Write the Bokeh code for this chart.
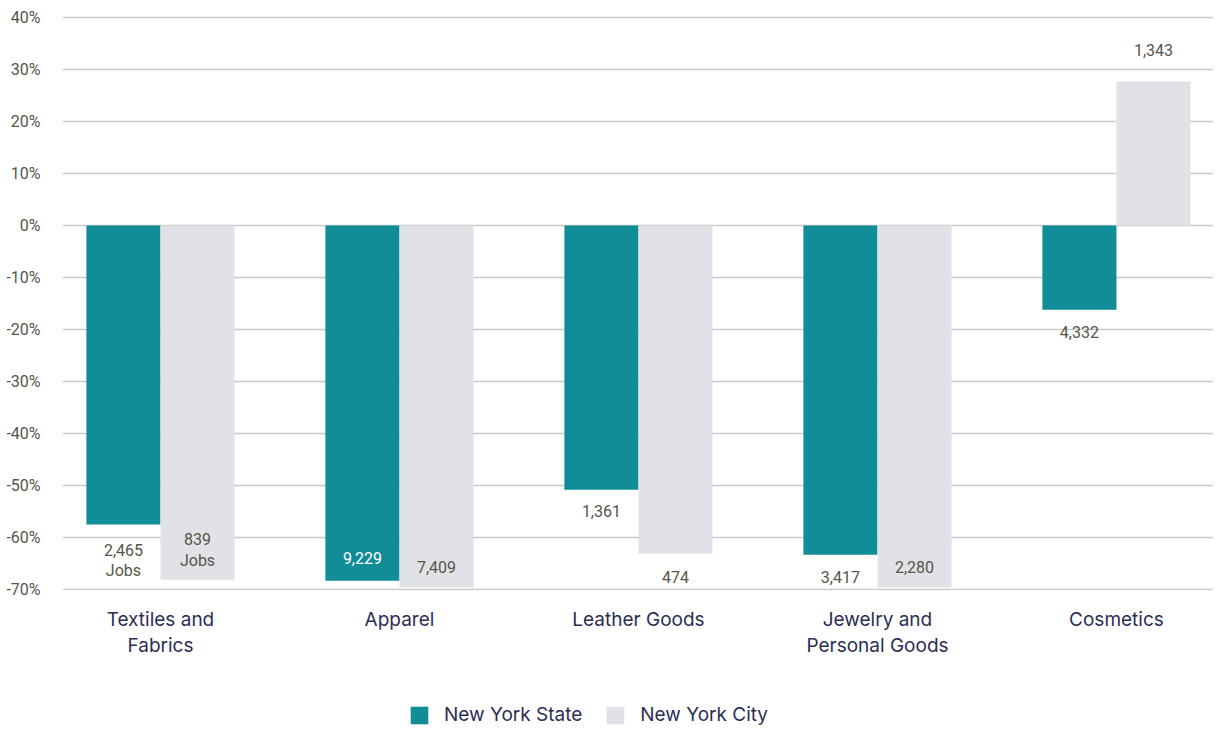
from bokeh.plotting import figure
from bokeh.layouts import column
from bokeh.models import (ColumnDataSource, FixedTicker, PrintfTickFormatter,
                          Legend, LegendItem, Range1d)
from bokeh.embed import file_html
from bokeh.resources import INLINE
from bokeh.core.properties import value

# ---------------- data ----------------
categories = ["Textiles and\nFabrics", "Apparel", "Leather Goods",
              "Jewelry and\nPersonal Goods", "Cosmetics"]
nys_change = [-57.5, -68.3, -50.8, -63.3, -16.2]   # % change, New York State
nyc_change = [-68.1, -69.6, -63.1, -69.6, 27.7]    # % change, New York City
nys_jobs = [2465, 9229, 1361, 3417, 4332]
nyc_jobs = [839, 7409, 474, 2280, 1343]
y_ticks = [-70, -60, -50, -40, -30, -20, -10, 0, 10, 20, 30, 40]
series_names = ["New York State", "New York City"]

# ---------------- style ----------------
TEAL = "#118d98"
LIGHT = "#e1e2e7"
NAVY = "#2d2d55"
GREY_TXT = "#55554a"
NUM_FONT = "Roboto"
CAT_FONT = "Inter"
BAR_W = 0.31
DODGE = 0.155
# label offsets (screen px, from the end of each bar)
nys_off = [36, -23, 21, 22, 22]
nyc_off = [-30, -20, 23, -20, -31]
nys_col = [GREY_TXT, "#ffffff", GREY_TXT, GREY_TXT, GREY_TXT]
nyc_col = [GREY_TXT] * 5


def fmt(n, first):
    s = f"{n:,}"
    return s + "\nJobs" if first else s


idx = list(range(len(categories)))
src_nys = ColumnDataSource(dict(
    x=[i - DODGE for i in idx], top=nys_change,
    lab=[fmt(n, i == 0) for i, n in enumerate(nys_jobs)],
    off=nys_off, col=nys_col))
src_nyc = ColumnDataSource(dict(
    x=[i + DODGE for i in idx], top=nyc_change,
    lab=[fmt(n, i == 0) for i, n in enumerate(nyc_jobs)],
    off=nyc_off, col=nyc_col))

p = figure(width=1213, height=660, output_backend="svg", toolbar_location=None,
           x_range=Range1d(-0.41, 4.406), y_range=Range1d(-70.19, 41.35),
           min_border_left=62, min_border_right=0, min_border_top=10,
           min_border_bottom=70)
p.outline_line_color = None
p.background_fill_color = "white"

p.vbar(x="x", top="top", bottom=0, width=BAR_W, source=src_nys,
       fill_color=TEAL, line_color=None)
p.vbar(x="x", top="top", bottom=0, width=BAR_W, source=src_nyc,
       fill_color=LIGHT, line_color=None)

for src in (src_nys, src_nyc):
    p.text(x="x", y="top", text="lab", y_offset="off", source=src,
           text_align="center", text_baseline="middle",
           text_font=value(NUM_FONT), text_font_size="16px",
           text_color="col", text_line_height=1.1)

# grid
p.xgrid.grid_line_color = None
p.ygrid.grid_line_color = "#c9c9c9"
p.ygrid.grid_line_width = 1.6
p.ygrid.ticker = FixedTicker(ticks=y_ticks)

# y axis
p.yaxis.ticker = FixedTicker(ticks=y_ticks)
p.yaxis.formatter = PrintfTickFormatter(format="%d%%")
p.yaxis.axis_line_color = None
p.yaxis.major_tick_line_color = None
p.yaxis.minor_tick_line_color = None
p.yaxis.major_label_text_font = NUM_FONT
p.yaxis.major_label_text_font_size = "16px"
p.yaxis.major_label_text_color = GREY_TXT
p.yaxis.major_label_standoff = 16

# x axis
p.xaxis.ticker = FixedTicker(ticks=idx)
p.xaxis.major_label_overrides = {i: c for i, c in enumerate(categories)}
p.xaxis.axis_line_color = None
p.xaxis.major_tick_line_color = None
p.xaxis.minor_tick_line_color = None
p.xaxis.major_label_text_font = CAT_FONT
p.xaxis.major_label_text_font_size = "19px"
p.xaxis.major_label_text_color = NAVY
p.xaxis.major_label_standoff = 11
p.xaxis.major_label_text_line_height = 1.15

# ---------------- legend strip ----------------
lg = figure(width=1213, height=66, output_backend="svg", toolbar_location=None,
            x_range=Range1d(0, 1), y_range=Range1d(0, 1),
            x_axis_location=None, y_axis_location=None,
            min_border=0, outline_line_color=None)
lg.grid.visible = False
g1 = lg.rect(x=[-5], y=[-5], width=0.1, height=0.1,
             fill_color=TEAL, line_color=None)
g2 = lg.rect(x=[-5], y=[-5], width=0.1, height=0.1,
             fill_color=LIGHT, line_color=None)
legend = Legend(items=[LegendItem(label=series_names[0], renderers=[g1]),
                       LegendItem(label=series_names[1], renderers=[g2])],
                location=(346, 0), orientation="horizontal",
                glyph_width=22, glyph_height=22, spacing=22,
                label_standoff=14, padding=0, margin=0,
                border_line_color=None, background_fill_alpha=0,
                label_text_font=CAT_FONT, label_text_font_size="19px",
                label_text_color=NAVY)
lg.add_layout(legend, "center")

layout = column(p, lg, spacing=0)
open("out.html", "w").write(file_html(layout, INLINE))
